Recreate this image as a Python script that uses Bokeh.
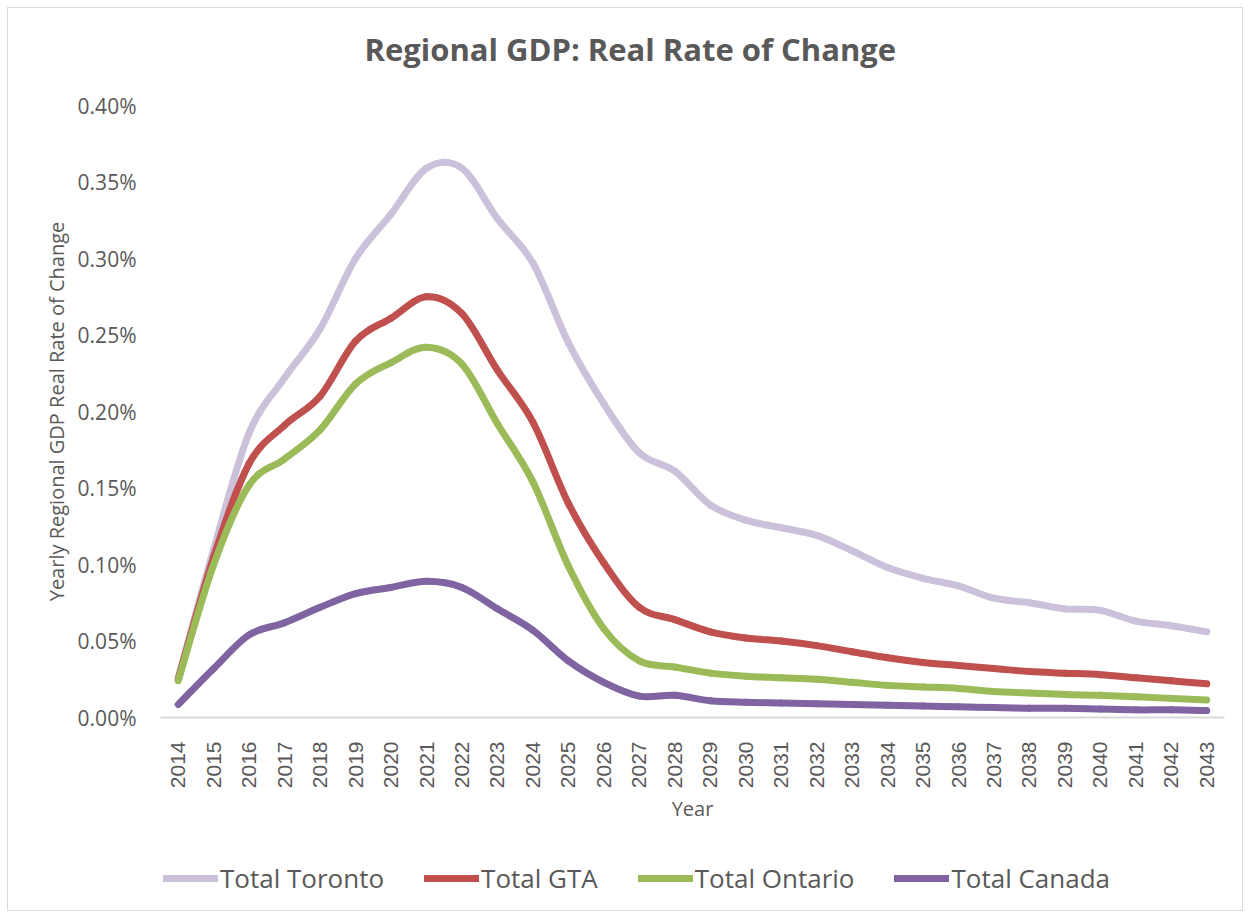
import math
from bokeh.plotting import figure
from bokeh.layouts import column
from bokeh.models import (Range1d, FixedTicker, PrintfTickFormatter, Legend,
                          LegendItem, ColumnDataSource, Title)
from bokeh.embed import file_html
from bokeh.resources import INLINE

# ---------------- data (values in percent) ----------------
years = list(range(2014, 2044))
toronto = [0.026, 0.110, 0.186, 0.222, 0.254, 0.300, 0.329, 0.359, 0.359, 0.326,
           0.297, 0.245, 0.205, 0.173, 0.161, 0.139, 0.129, 0.124, 0.119, 0.109,
           0.098, 0.091, 0.086, 0.078, 0.075, 0.071, 0.070, 0.063, 0.060, 0.056]
gta = [0.025, 0.105, 0.166, 0.191, 0.210, 0.246, 0.261, 0.275, 0.264, 0.227,
       0.193, 0.140, 0.101, 0.072, 0.064, 0.056, 0.052, 0.050, 0.047, 0.043,
       0.039, 0.036, 0.034, 0.032, 0.030, 0.029, 0.028, 0.026, 0.024, 0.022]
ontario = [0.024, 0.100, 0.152, 0.169, 0.188, 0.218, 0.232, 0.242, 0.231, 0.192,
           0.154, 0.099, 0.058, 0.037, 0.033, 0.029, 0.027, 0.026, 0.025, 0.023,
           0.021, 0.020, 0.019, 0.017, 0.016, 0.015, 0.0145, 0.0135, 0.0125, 0.0115]
canada = [0.0085, 0.032, 0.054, 0.062, 0.072, 0.081, 0.085, 0.089, 0.085, 0.071,
          0.057, 0.037, 0.023, 0.014, 0.0145, 0.011, 0.010, 0.0095, 0.009, 0.0085,
          0.008, 0.0075, 0.007, 0.0065, 0.006, 0.006, 0.0055, 0.005, 0.005, 0.0045]
series_names = ["Total Toronto", "Total GTA", "Total Ontario", "Total Canada"]
series_colors = ["#CCC1DA", "#C0504D", "#9BBB59", "#8064A2"]
y_ticks = [0.00, 0.05, 0.10, 0.15, 0.20, 0.25, 0.30, 0.35, 0.40]

TEXT = "#595959"


def smooth_segments(xs, ys):
    """Bezier segments through the data points (Excel-style smoothed line)."""
    n = len(xs)
    d = {k: [] for k in ("x0", "y0", "x1", "y1", "cx0", "cy0", "cx1", "cy1")}
    for i in range(n - 1):
        a = max(i - 1, 0)
        b = min(i + 2, n - 1)
        d["x0"].append(xs[i]); d["y0"].append(ys[i])
        d["x1"].append(xs[i + 1]); d["y1"].append(ys[i + 1])
        d["cx0"].append(xs[i] + (xs[i + 1] - xs[a]) / 6.0)
        d["cy0"].append(ys[i] + (ys[i + 1] - ys[a]) / 6.0)
        d["cx1"].append(xs[i + 1] - (xs[b] - xs[i]) / 6.0)
        d["cy1"].append(ys[i + 1] - (ys[b] - ys[i]) / 6.0)
    return ColumnDataSource(d)


BEZ = dict(x0="x0", y0="y0", x1="x1", y1="y1", cx0="cx0", cy0="cy0",
           cx1="cx1", cy1="cy1")

# ---------------- main chart ----------------
p = figure(width=1250, height=840, output_backend="svg", toolbar_location=None,
           x_range=Range1d(2013.5, 2043.5), y_range=Range1d(0, 0.40),
           min_border_left=160, min_border_right=26, min_border_top=105,
           min_border_bottom=123)
p.outline_line_color = None
p.background_fill_color = "white"
p.border_fill_alpha = 0
p.xgrid.visible = False
p.ygrid.visible = False

# title (with a small spacer between it and the plot area)
p.title.text = "Regional GDP: Real Rate of Change"
p.title.align = "left"
p.title.offset = 204
p.title.vertical_align = "middle"
p.title.standoff = 20
p.title.text_font = "Open Sans"
p.title.text_font_style = "bold"
p.title.text_font_size = "31px"
p.title.text_color = TEXT
p.add_layout(Title(text=" ", text_font_size="1px", standoff=22), "above")

# x axis
xa = p.xaxis[0]
xa.ticker = FixedTicker(ticks=years)
xa.major_label_orientation = math.pi / 2
xa.axis_line_color = "#d9d9d9"
xa.axis_line_width = 2
xa.major_tick_line_color = None
xa.minor_tick_line_color = None
xa.major_label_standoff = 18
xa.major_label_text_font = "Liberation Sans"
xa.major_label_text_font_size = "21px"
xa.major_label_text_color = TEXT
xa.axis_label = "Year"
xa.axis_label_text_font = "Open Sans"
xa.axis_label_text_font_size = "20px"
xa.axis_label_text_font_style = "normal"
xa.axis_label_text_color = TEXT
xa.axis_label_standoff = 4

# y axis
ya = p.yaxis[0]
ya.ticker = FixedTicker(ticks=y_ticks)
ya.formatter = PrintfTickFormatter(format="%.2f%%")
ya.axis_line_color = None
ya.major_tick_line_color = None
ya.minor_tick_line_color = None
ya.major_label_standoff = 18
ya.major_label_text_font = "Open Sans"
ya.major_label_text_font_size = "21px"
ya.major_label_text_color = TEXT
ya.axis_label = "Yearly Regional GDP Real Rate of Change"
ya.axis_label_text_font = "Open Sans"
ya.axis_label_text_font_size = "20px"
ya.axis_label_text_font_style = "normal"
ya.axis_label_text_color = TEXT
ya.axis_label_standoff = 5

sources = []
for vals, col in zip([toronto, gta, ontario, canada], series_colors):
    src = smooth_segments(years, vals)
    sources.append(src)
    p.bezier(source=src, line_color=col, line_width=7, line_cap="round", **BEZ)

# ---------------- legend strip ----------------
# same series sources; this strip's y range lies above the data, so only the
# legend entries are visible here
lg = figure(width=1250, height=78, output_backend="svg", toolbar_location=None,
            x_range=Range1d(2013.5, 2043.5), y_range=Range1d(1, 2), min_border=0,
            x_axis_location=None, y_axis_location=None)
lg.grid.visible = False
lg.outline_line_color = None
lg.background_fill_alpha = 0
lg.border_fill_alpha = 0

items = []
for name, src, col in zip(series_names, sources, series_colors):
    r = lg.bezier(source=src, line_color=col, line_width=7, line_cap="round", **BEZ)
    items.append(LegendItem(label=name, renderers=[r]))

legend = Legend(items=items, orientation="horizontal", location=(3, 22),
                glyph_width=55, glyph_height=36, label_height=36, label_standoff=2,
                spacing=40, padding=0, margin=0, border_line_color=None,
                background_fill_alpha=0, label_text_font="Open Sans",
                label_text_font_size="26px", label_text_color=TEXT)
lg.add_layout(legend)

layout = column(p, lg, spacing=0,
                styles={"outline": "1px solid #d9d9d9", "outline-offset": "-8px",
                        "background-color": "white"})

open("out.html", "w").write(file_html(layout, INLINE))
